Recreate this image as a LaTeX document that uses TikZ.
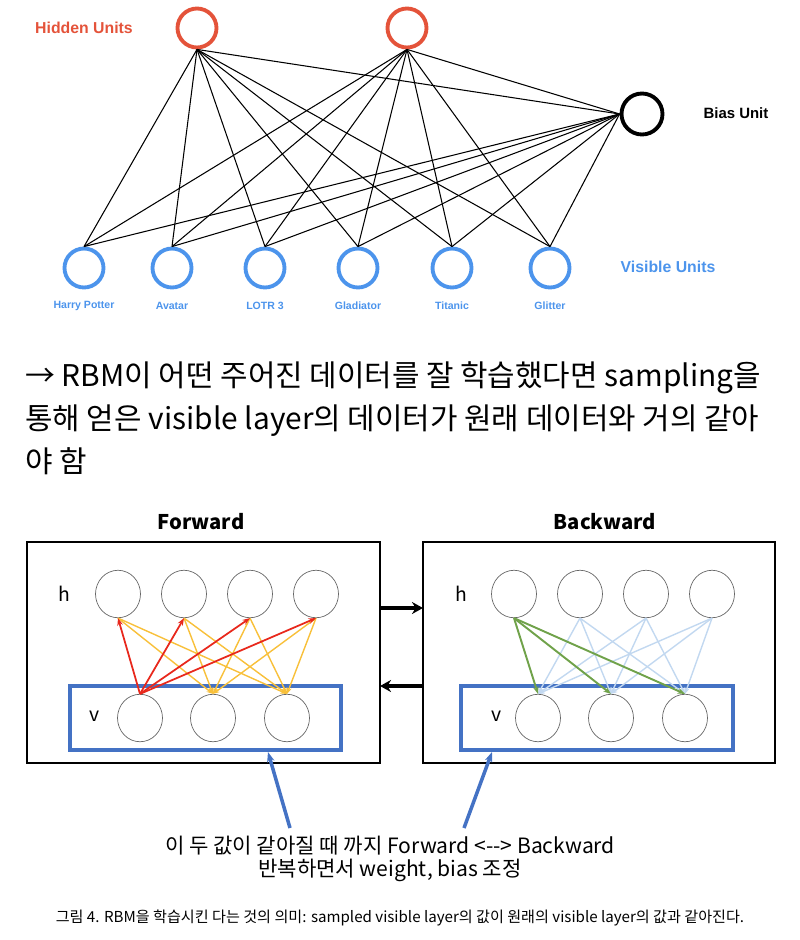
\documentclass[tikz,border=0pt]{standalone}
\usepackage{fontspec}
\setmainfont{Liberation Sans}
\newfontfamily\kr{Noto Sans CJK KR}
\usetikzlibrary{arrows.meta, shapes.geometric}
\definecolor{hidred}{HTML}{E4533A}
\definecolor{visblue}{HTML}{4C94EC}
\definecolor{boxblue}{HTML}{4472C4}
\definecolor{fyellow}{HTML}{F8C03A}
\definecolor{fred}{HTML}{E8281C}
\definecolor{bgreen}{HTML}{70A24A}
\definecolor{bpale}{HTML}{C2D8F0}

\begin{document}
\begin{tikzpicture}[
  x=0.02cm, y=-0.02cm,
  >=Stealth,
  hid/.style={draw=hidred, line width=2.2pt, circle, minimum size=0.78cm, inner sep=0pt},
  vis/.style={draw=visblue, line width=2.2pt, circle, minimum size=0.78cm, inner sep=0pt},
  bias/.style={draw, line width=2.2pt, circle, minimum size=0.82cm, inner sep=0pt},
  w/.style={line width=0.6pt},
  movie/.style={text=visblue, font=\bfseries\fontsize{6}{7}\selectfont},
  unit/.style={ellipse, draw=black!60, minimum width=0.9cm, minimum height=0.95cm, inner sep=0pt},
  box/.style={draw, line width=1pt},
  vbox/.style={draw=boxblue, line width=2pt},
  fw/.style={-{Stealth[length=2.2mm, width=2.4mm]}, line width=2.4pt},
  ttl/.style={font=\kr\bfseries\fontsize{11.5}{13}\selectfont}
]
\useasboundingbox (0,0) rectangle (800,940);

% --- Upper network ---
\node[hid] (H1) at (197,28) {};
\node[hid] (H2) at (407,28) {};
\node[bias] (B) at (642,114) {};
\node[text=hidred, font=\bfseries\fontsize{9}{10}\selectfont] at (84,28) {Hidden Units};
\node[font=\bfseries\fontsize{8.5}{9}\selectfont] at (736,113) {Bias Unit};
\node[text=visblue, font=\bfseries\fontsize{9}{10}\selectfont] at (668,267) {Visible Units};

\foreach \i/\x/\t in {1/84/Harry Potter, 2/172/Avatar, 3/265/LOTR 3, 4/358/Gladiator, 5/452/Titanic, 6/550/Glitter} {
  \node[vis] (V\i) at (\x,268) {};
  \node[movie] at (\x,306) {\t};
}

\foreach \i in {1,...,6} {
  \draw[w] (H1.south) -- (V\i.north);
  \draw[w] (H2.south) -- (V\i.north);
  \draw[w] (B.west) -- (V\i.north);
}
\draw[w] (H1.south) -- (B.west);
\draw[w] (H2.south) -- (B.west);

% --- Text ---
\node[anchor=west, align=left, font=\kr\fontsize{17}{24.4}\selectfont, inner sep=0pt] (txt) at (25,418)
  {→ RBM이 어떤 주어진 데이터를 잘 학습했다면 sampling을\\통해 얻은 visible layer의 데이터가 원래 데이터와 거의 같아\\야 함};

% --- Forward / Backward ---
\node[ttl] at (201,522) {Forward};
\node[ttl] at (605,522) {Backward};
\draw[box] (27,542) rectangle (380,763);
\draw[box] (423,542) rectangle (775,763);
\draw[vbox] (70,686) rectangle (341,750);
\draw[vbox] (461,686) rectangle (733,750);

\node[font=\kr\fontsize{11}{13}\selectfont] at (64,594) {h};
\node[font=\kr\fontsize{11}{13}\selectfont] at (95,716) {v};
\node[font=\kr\fontsize{11}{13}\selectfont] at (461,594) {h};
\node[font=\kr\fontsize{11}{13}\selectfont] at (497,716) {v};

\foreach \i/\x in {1/118, 2/184, 3/250, 4/316} \node[unit] (fh\i) at (\x,594) {};
\foreach \i/\x in {1/140, 2/213, 3/287} \node[unit] (fv\i) at (\x,718) {};
\foreach \i/\x in {1/514, 2/580, 3/646, 4/712} \node[unit] (bh\i) at (\x,594) {};
\foreach \i/\x in {1/538, 2/611, 3/685} \node[unit] (bv\i) at (\x,718) {};

% forward: yellow then red
\foreach \i in {1,...,4} \foreach \j in {2,3}
  \draw[->, >={Stealth[length=1.3mm]}, fyellow, line width=0.8pt] (fh\i.south) -- (fv\j.north);
\foreach \i in {1,...,4}
  \draw[->, >={Stealth[length=1.5mm]}, fred, line width=1pt] (fv1.north) -- (fh\i.south);

% backward: pale blue then green
\foreach \i in {2,3,4} \foreach \j in {1,2,3}
  \draw[->, >={Stealth[length=1.3mm]}, bpale, line width=0.8pt] (bh\i.south) -- (bv\j.north);
\foreach \j in {1,2,3}
  \draw[->, >={Stealth[length=1.5mm]}, bgreen, line width=1.1pt] (bh1.south) -- (bv\j.north);

\coordinate (f) at (380,608);
\coordinate (b) at (423,608);
\draw[fw] (f) -- (b);
\coordinate (f2) at (380,686);
\coordinate (b2) at (423,686);
\draw[fw] (b2) -- (f2);

% --- Bottom text ---
\node[align=center, font=\kr\fontsize{12}{13.5}\selectfont] (note) at (390,859)
  {이 두 값이 같아질 때 까지 Forward <--> Backward\\반복하면서 weight, bias 조정};
\coordinate (lt) at (268,752);
\coordinate (rt) at (492,752);
\draw[->, >={Stealth[length=2mm]}, boxblue, line width=2pt] (290,828) -- (lt);
\draw[->, >={Stealth[length=2mm]}, boxblue, line width=2pt] (464,828) -- (rt);

\node[font=\kr\fontsize{8.6}{9}\selectfont] (cap) at (400,918)
  {그림 4. RBM을 학습시킨 다는 것의 의미: sampled visible layer의 값이 원래의 visible layer의 값과 같아진다.};
\end{tikzpicture}
\end{document}
